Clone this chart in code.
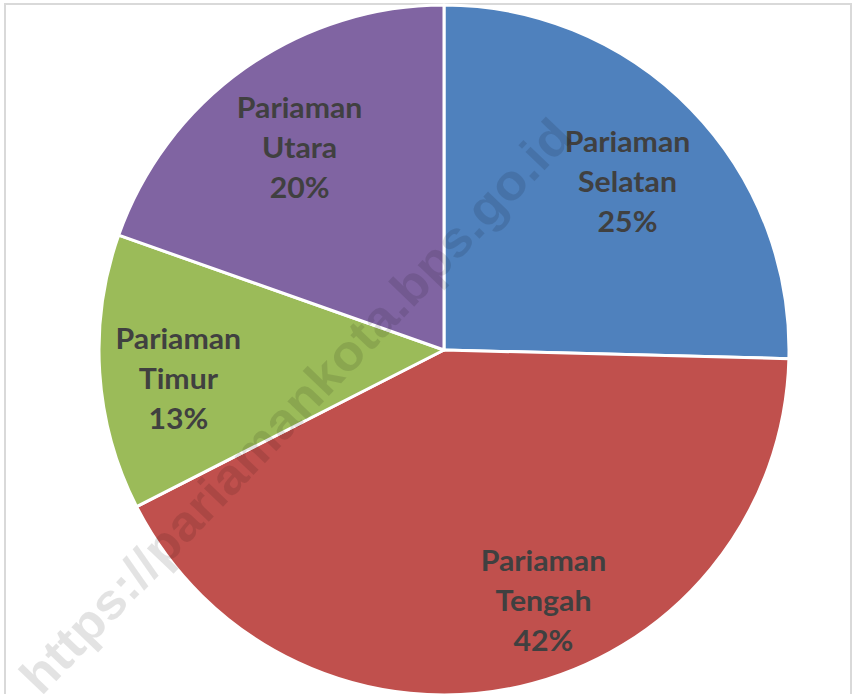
<!DOCTYPE html>
<html>
<head>
<meta charset="utf-8">
<script src="https://cdn.jsdelivr.net/npm/d3@7"></script>
<style>
  body { margin: 0; background: #fff; }
  svg { display: block; }
</style>
</head>
<body>
<div class="chart"></div>
<script>
// kecamatan shares (percent), clockwise from 12 o'clock
const regions = ['Pariaman Selatan', 'Pariaman Tengah', 'Pariaman Timur', 'Pariaman Utara']
const shares = [25.4, 42.1, 12.9, 19.6]
const colors = ['#4F81BD', '#C0504D', '#9BBB59', '#8064A2']
const watermark = 'https://pariamankota.bps.go.id'

const width = 853
const height = 694
const cx = 444
const cy = 350
const radius = 345
const labelRadius = 250
// excel "best fit" nudges labels a bit off the bisector (degrees, px)
const labelNudge = {
  'Pariaman Selatan': [1.5, 0],
  'Pariaman Tengah': [-9, 18],
  'Pariaman Timur': [-2, 17]
}

const data = regions.map((name, i) => ({name: name, value: shares[i], color: colors[i]}))

const svg = d3
  .select('.chart')
  .append('svg')
  .attr('width', width)
  .attr('height', height)

// thin frame round the picture
svg
  .append('rect')
  .attr('x', 5)
  .attr('y', 4)
  .attr('width', width - 7)
  .attr('height', height + 10)
  .style('fill', 'none')
  .style('stroke', '#d9d9d9')
  .style('stroke-width', 2)

const pie = d3
  .pie()
  .sort(null)
  .value(d => d.value)

const arc = d3
  .arc()
  .innerRadius(0)
  .outerRadius(radius)

const g = svg.append('g').attr('transform', 'translate(' + cx + ',' + cy + ')')
const arcs = pie(data)

g.selectAll('path.slice')
  .data(arcs)
  .enter()
  .append('path')
  .attr('class', 'slice')
  .attr('d', arc)
  .style('fill', d => d.data.color)
  .style('stroke', '#fff')
  .style('stroke-width', 3)
  .style('stroke-linejoin', 'round')

// watermark sits above the slices, below the labels
svg
  .append('text')
  .attr('transform', 'translate(308,418) rotate(-46.3)')
  .attr('text-anchor', 'middle')
  .attr('textLength', 772)
  .attr('lengthAdjust', 'spacingAndGlyphs')
  .style('font-family', '"Liberation Sans", Arial, sans-serif')
  .style('font-weight', 'bold')
  .style('font-size', '50px')
  .style('fill', '#000')
  .style('fill-opacity', 0.11)
  .text(watermark)

const labels = g
  .selectAll('g.label')
  .data(arcs)
  .enter()
  .append('g')
  .attr('class', 'label')
  .attr('transform', d => {
    const nudge = labelNudge[d.data.name] || [0, 0]
    const a = (d.startAngle + d.endAngle) / 2 + nudge[0] * Math.PI / 180
    const r = labelRadius + nudge[1]
    return 'translate(' + r * Math.sin(a) + ',' + -r * Math.cos(a) + ') scale(1.08,1)'
  })

labels.each(function(d) {
  const total = d3.sum(shares)
  const parts = d.data.name.split(' ')
  parts.push(Math.round(d.data.value / total * 100) + '%')
  const t = d3
    .select(this)
    .append('text')
    .attr('text-anchor', 'middle')
    .style('font-family', 'Lato, "Open Sans", sans-serif')
    .style('font-weight', 'bold')
    .style('font-size', '28px')
    .style('fill', '#404040')
  parts.forEach((p, i) => {
    t.append('tspan')
      .attr('x', 0)
      .attr('y', (i - 1) * 40 + 12)
      .text(p)
  })
})
</script>
</body>
</html>
